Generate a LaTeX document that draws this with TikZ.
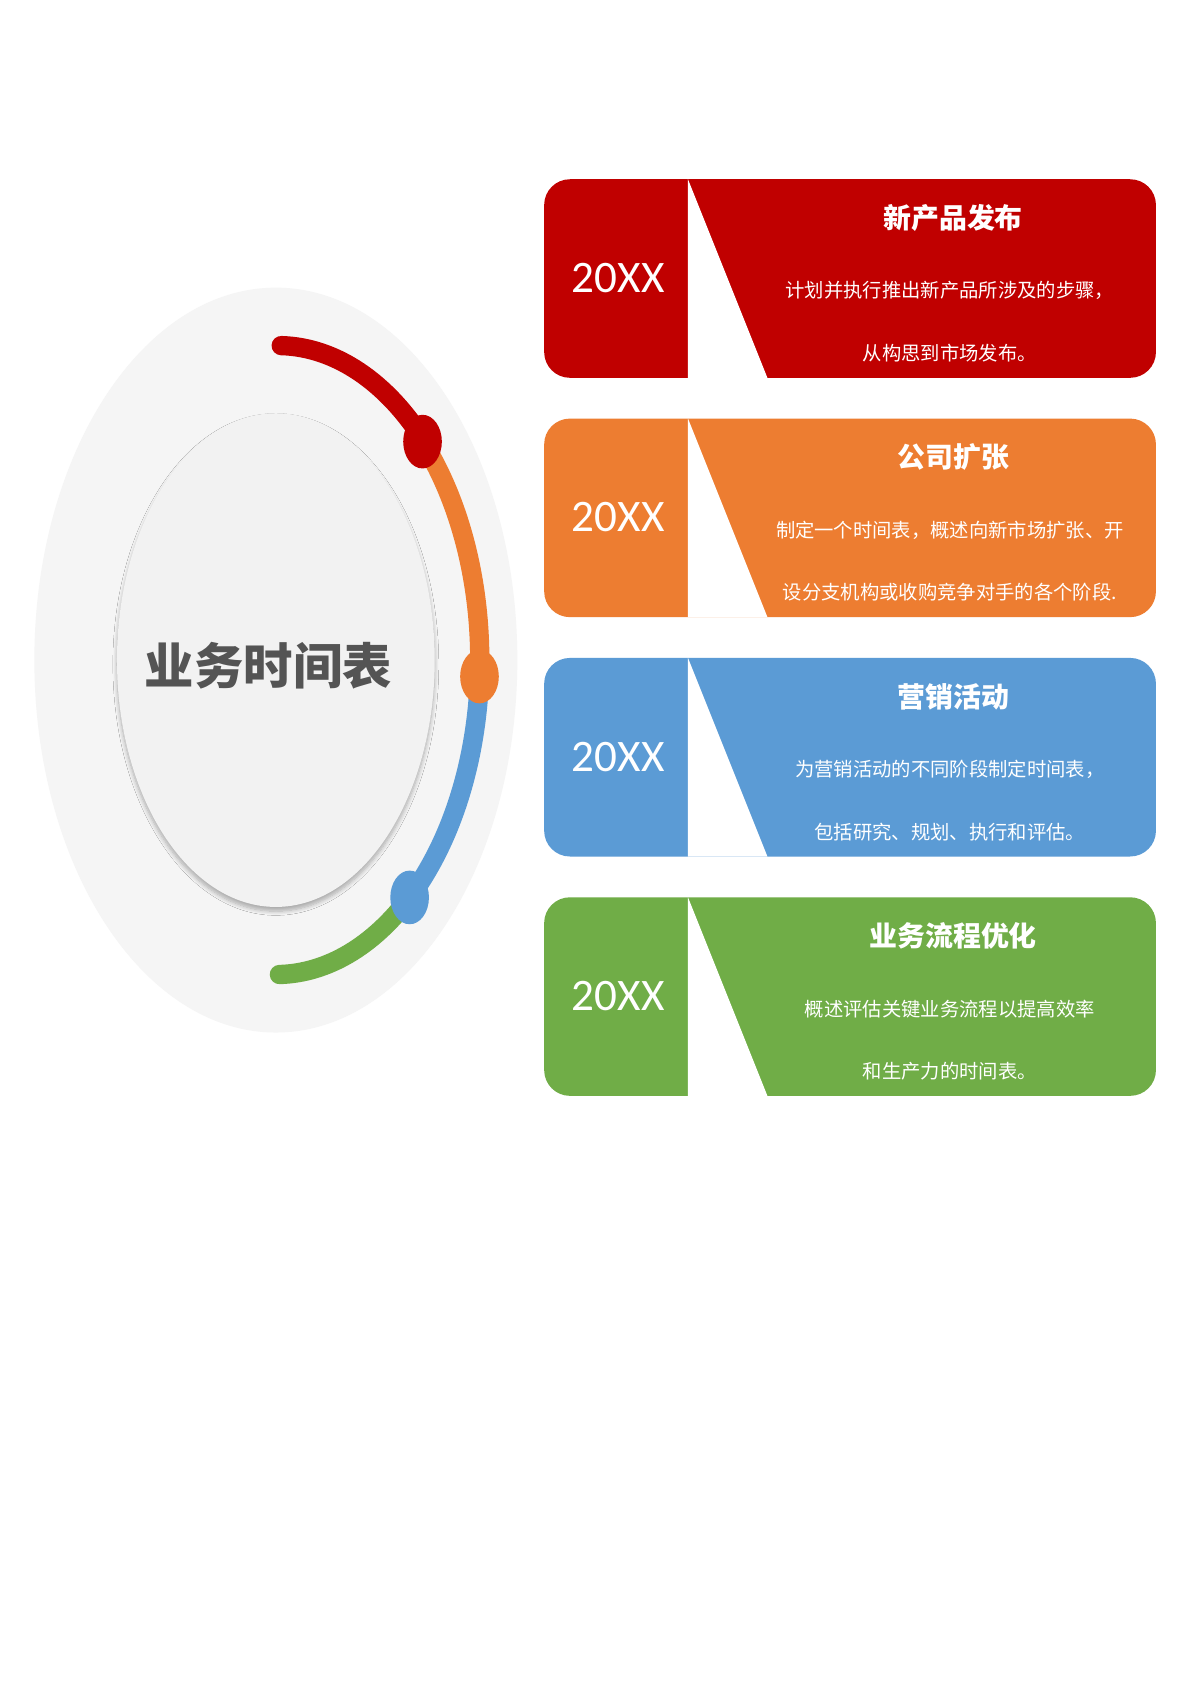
\documentclass[tikz,border=0pt]{standalone}
\usepackage{fontspec}
\setmainfont{Carlito}
\newfontfamily\cjk{Noto Sans CJK SC}
\usetikzlibrary{shadows.blur}
\definecolor{cR}{HTML}{C00000}
\definecolor{cO}{HTML}{ED7D31}
\definecolor{cB}{HTML}{5B9BD5}
\definecolor{cG}{HTML}{70AD47}
\tikzset{
 card/.style={rounded corners=12pt},
 yeartxt/.style={text=white,font=\fontsize{21}{24}\selectfont},
 ttl/.style={text=white,font=\cjk\bfseries\fontsize{13}{15}\selectfont},
 body/.style={text=white,font=\cjk\fontsize{9}{29}\selectfont,align=center},
 arcseg/.style={line width=9pt,line cap=round},
 dot/.style={ellipse,minimum width=18pt,minimum height=25pt,inner sep=0pt}
}
\usetikzlibrary{shapes.geometric}
\begin{document}
\begin{tikzpicture}[x=0.5pt,y=-0.5pt]
\useasboundingbox (0,0) rectangle (1110,1569);
\fill[white] (0,0) rectangle (1110,1569);
% circles
\fill[black!4] (257,615) ellipse [x radius=225,y radius=347];
\fill[black!5,blur shadow={shadow blur steps=8,shadow xshift=0pt,shadow yshift=-2pt,shadow opacity=30}] (257,615) ellipse [x radius=148,y radius=230];
\node[text=black!67,font=\cjk\bfseries\fontsize{23}{26}\selectfont] (title) at (250,620) {业务时间表};
% arcs
\draw[arcseg,cR] (262,322) arc[start angle=-89,end angle=-44,x radius=190,y radius=293];
\draw[arcseg,cO,line cap=butt] ([shift={(-44:190 and 293)}]257,615) arc[start angle=-44,end angle=3,x radius=190,y radius=293];
\draw[arcseg,cB,line cap=butt] ([shift={(3:190 and 293)}]257,615) arc[start angle=3,end angle=49,x radius=190,y radius=293];
\draw[arcseg,cG] ([shift={(49:190 and 293)}]257,615) arc[start angle=49,end angle=89,x radius=190,y radius=293];
\node[dot,fill=cR] (d1) at ([shift={(-44:190 and 293)}]257,615) {};
\node[dot,fill=cO] (d2) at ([shift={(3:190 and 293)}]257,615) {};
\node[dot,fill=cB] (d3) at ([shift={(49:190 and 293)}]257,615) {};
% cards
\foreach \c/\t/\yr/\tt/\la/\lb [count=\i] in {
 cR/167/20XX/新产品发布/计划并执行推出新产品所涉及的步骤，/从构思到市场发布。,
 cO/390/20XX/公司扩张/制定一个时间表，概述向新市场扩张、开/设分支机构或收购竞争对手的各个阶段.,
 cB/613/20XX/营销活动/为营销活动的不同阶段制定时间表，/包括研究、规划、执行和评估。,
 cG/836/20XX/业务流程优化/概述评估关键业务流程以提高效率/和生产力的时间表。}{
 \fill[\c,card] (507,\t) rectangle (1077,\t+185);
 \fill[white] (641,\t) -- (641,\t+185) -- (715,\t+185) -- cycle;
 \node[yeartxt] (y\i) at (576,\t+92) {\yr};
 \node[ttl] (t\i) at (888,\t+36) {\tt};
 \node[body] (a\i) at (885,\t+104) {\la};
 \node[body] (b\i) at (885,\t+162) {\lb};
}
\end{tikzpicture}
\end{document}
